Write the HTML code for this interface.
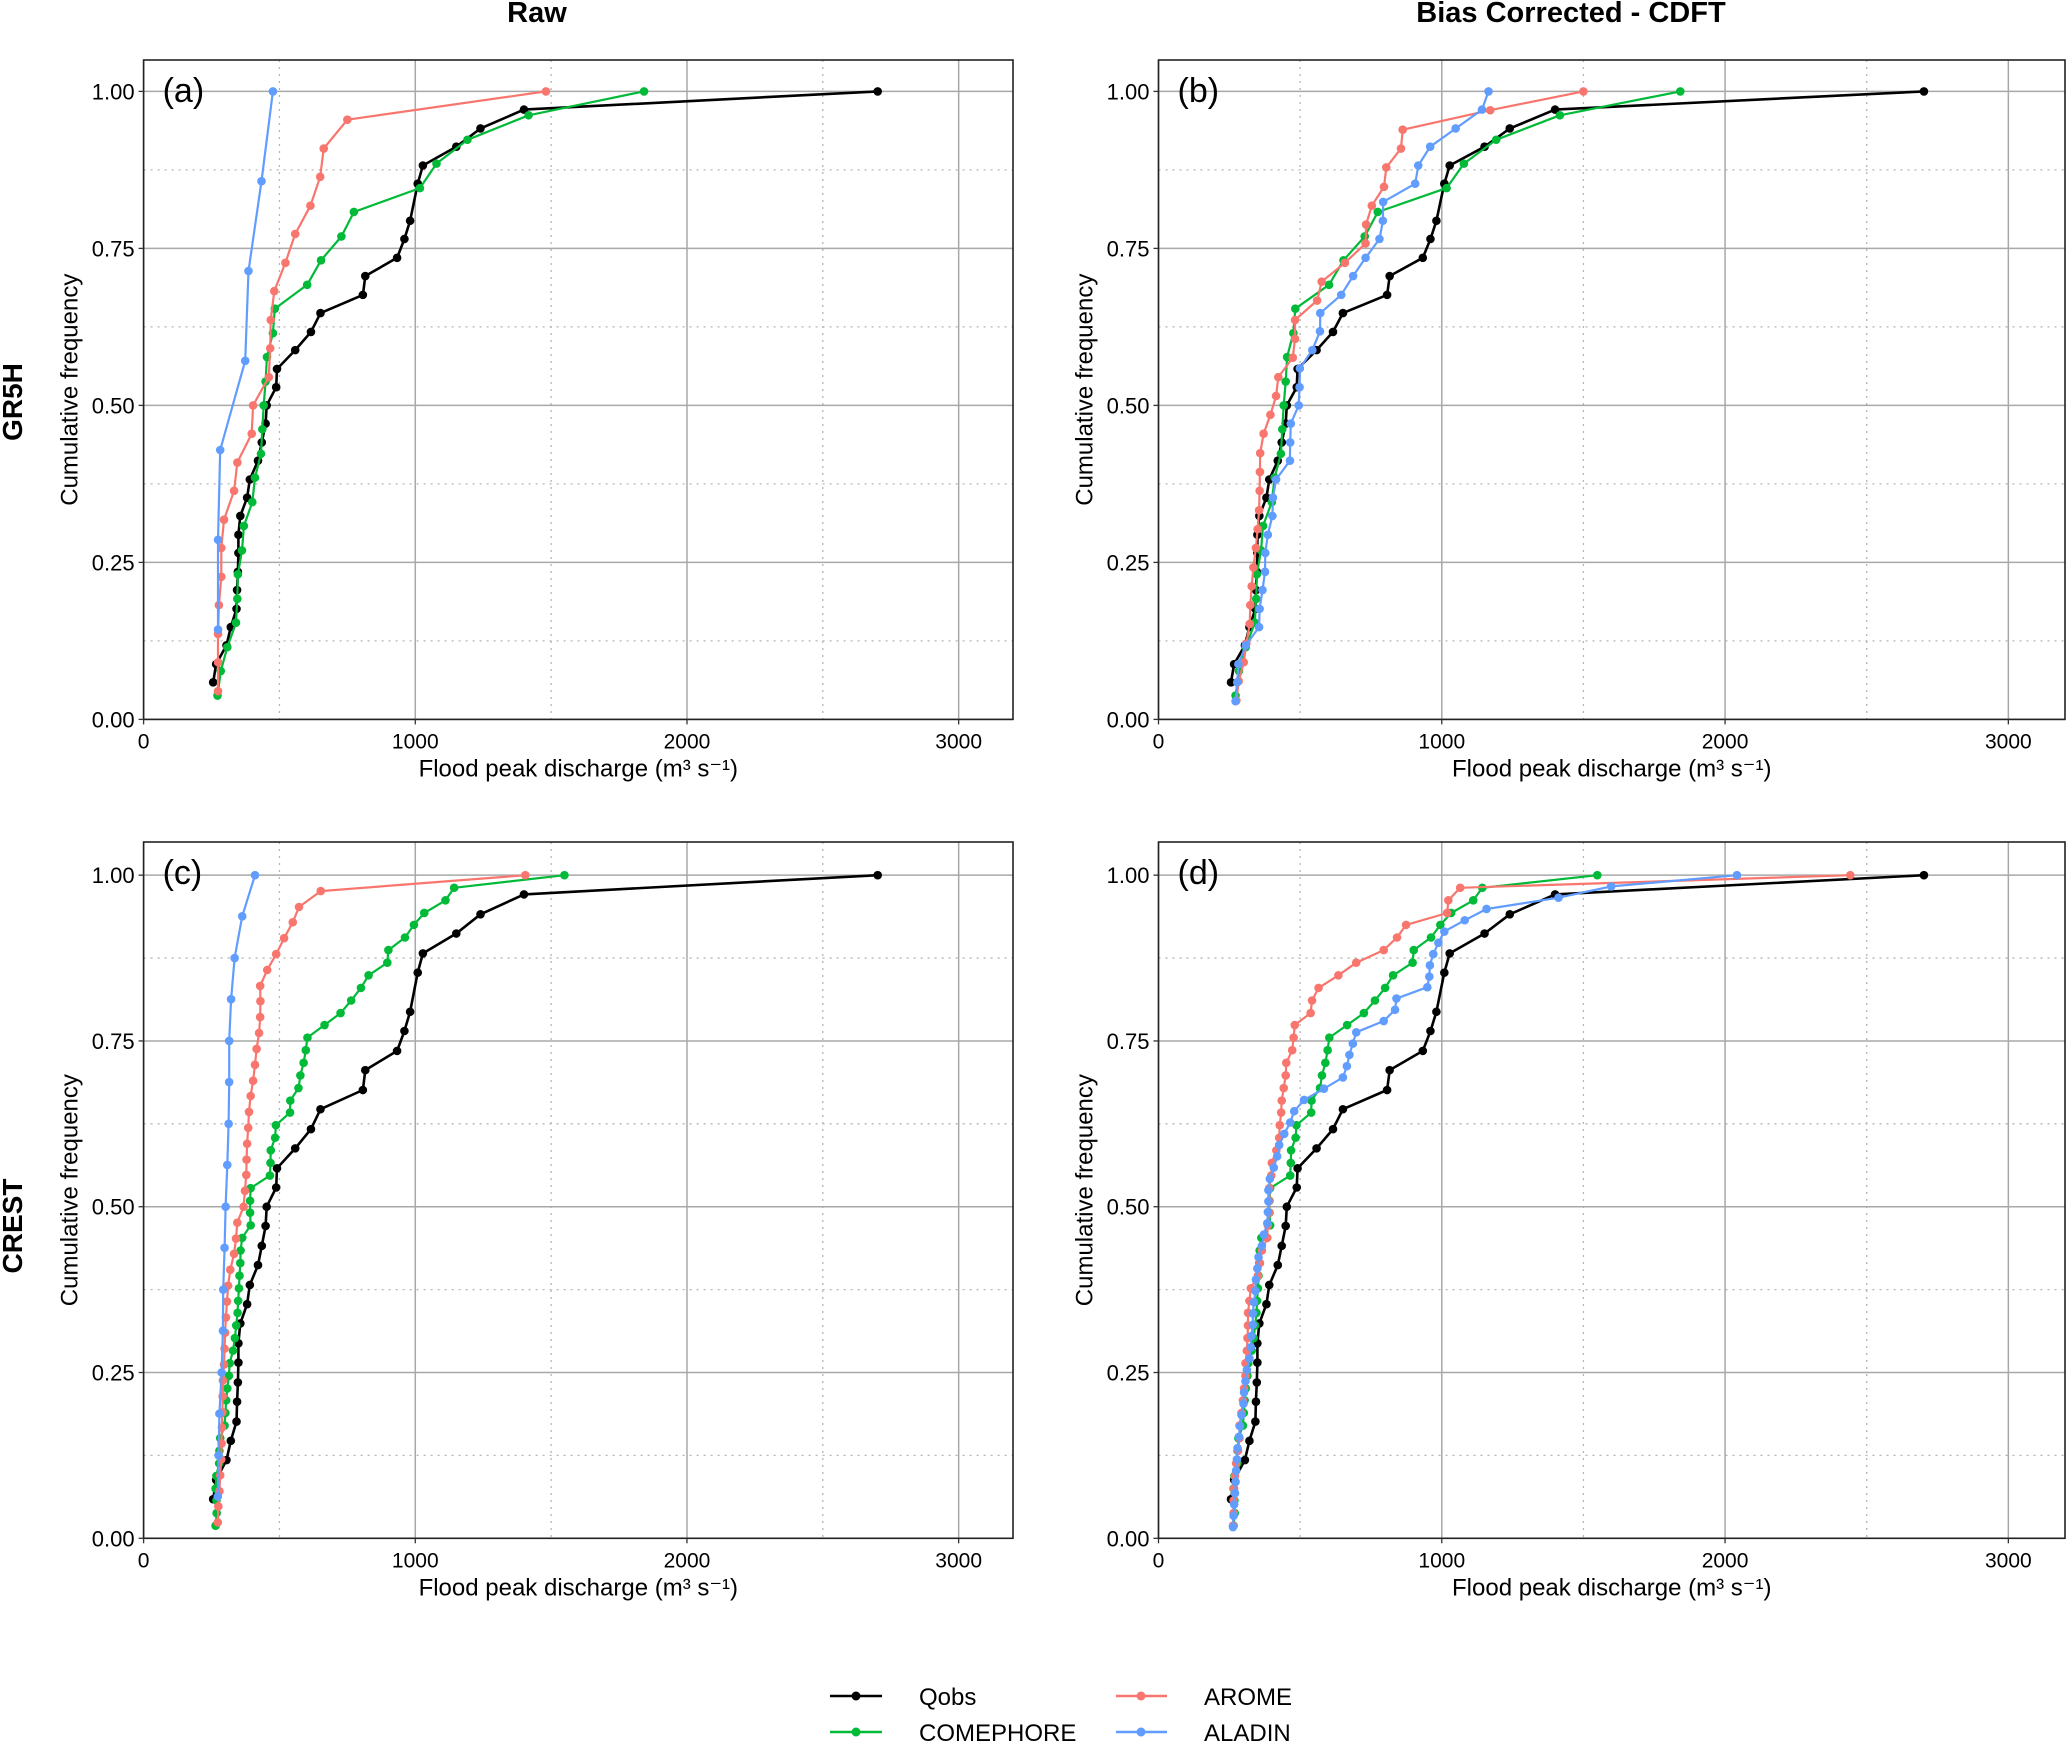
<!DOCTYPE html>
<html><head><meta charset="utf-8"><style>
html,body{margin:0;padding:0;background:#fff}
svg{display:block}
text{font-family:"Liberation Sans",sans-serif;fill:#000}
</style></head><body>
<svg id="fig" width="2067" height="1741" viewBox="0 0 2067 1741" xmlns="http://www.w3.org/2000/svg">
<text x="537" y="22" font-size="29" font-weight="bold" text-anchor="middle">Raw</text>
<text x="1571" y="22" font-size="29" font-weight="bold" text-anchor="middle">Bias Corrected - CDFT</text>
<text transform="translate(22,402) rotate(-90)" font-size="28" font-weight="bold" text-anchor="middle">GR5H</text>
<text transform="translate(22,1226) rotate(-90)" font-size="28" font-weight="bold" text-anchor="middle">CREST</text>
<g id="panels"></g>
<g>
 <g><line x1="830" y1="1696" x2="882" y2="1696" stroke="#000" stroke-width="2.5"/><circle cx="856" cy="1696" r="4.5" fill="#000"/><text x="919" y="1705" font-size="24">Qobs</text></g>
 <g><line x1="830" y1="1732" x2="882" y2="1732" stroke="#00BA38" stroke-width="2.5"/><circle cx="856" cy="1732" r="4.5" fill="#00BA38"/><text x="919" y="1741" font-size="24">COMEPHORE</text></g>
 <g><line x1="1116" y1="1696" x2="1167" y2="1696" stroke="#F8766D" stroke-width="2.5"/><circle cx="1141" cy="1696" r="4.5" fill="#F8766D"/><text x="1204" y="1705" font-size="24">AROME</text></g>
 <g><line x1="1116" y1="1732" x2="1167" y2="1732" stroke="#619CFF" stroke-width="2.5"/><circle cx="1141" cy="1732" r="4.5" fill="#619CFF"/><text x="1204" y="1741" font-size="24">ALADIN</text></g>
</g>
</svg>
<script>
const xTicks = [0, 1000, 2000, 3000];
const xMinor = [500, 1500, 2500];
const yTicks = [0, 0.25, 0.5, 0.75, 1];
const yTickLabels = ["0.00", "0.25", "0.50", "0.75", "1.00"];
const yMinor = [0.125, 0.375, 0.625, 0.875];
const panelLabels = ["(a)", "(b)", "(c)", "(d)"];

const qobsX = [2702,1400,1240,1151,1028,1009,981,960,933,816,807,651,616,558,491,488,453,449,435,421,391,381,356,349,349,347,344,342,321,305,267,256];
const qobsY = [1,0.971,0.941,0.912,0.882,0.853,0.794,0.765,0.735,0.706,0.676,0.647,0.617,0.588,0.558,0.529,0.5,0.471,0.441,0.412,0.382,0.353,0.324,0.294,0.265,0.235,0.206,0.176,0.147,0.118,0.088,0.059];

const gr5hComephoreX = [1842,1417,1192,1078,1017,774,728,653,602,483,476,454,449,442,437,432,410,400,369,362,347,345,340,308,284,272];
const gr5hComephoreY = [1,.962,.923,.885,.846,.808,.769,.731,.692,.654,.615,.577,.538,.5,.462,.423,.385,.346,.308,.269,.231,.192,.154,.115,.077,.038];

const aAromeX = [1481,750,663,650,614,558,522,481,468,466,461,403,398,345,333,296,286,286,277,274,274,274];
const aAromeY = [1,.955,.909,.864,.818,.773,.727,.682,.636,.591,.545,.5,.455,.409,.364,.318,.273,.227,.182,.136,.091,.045];
const aAladinX = [476,434,386,374,282,274,274];
const aAladinY = [1,.857,.714,.571,.429,.286,.143];

const bAromeX = [1500,1171,862,856,804,796,753,733,731,658,576,560,482,482,474,423,415,395,371,359,358,357,355,350,344,335,329,324,322,310,301,283,275];
const bAromeY = [1,.970,.939,.909,.879,.848,.818,.788,.758,.727,.697,.667,.636,.606,.576,.545,.515,.485,.455,.424,.394,.364,.333,.303,.273,.242,.212,.182,.152,.121,.091,.061,.030];
const bAladinX = [1165,1142,1049,959,917,906,793,792,780,731,687,645,571,570,543,499,498,495,467,465,464,415,404,402,386,377,376,367,357,355,308,282,278,272];
const bAladinY = [1,.971,.941,.912,.882,.853,.824,.794,.765,.735,.706,.676,.647,.618,.588,.559,.529,.5,.471,.441,.412,.382,.353,.324,.294,.265,.235,.206,.176,.147,.118,.088,.059,.029];

const crestComephoreX = [1549,1143,1111,1033,995,962,901,897,828,800,764,725,666,603,597,589,577,570,540,539,487,484,468,467,465,394,392,392,394,363,357,356,353,351,348,346,341,336,329,317,314,308,304,301,298,282,279,278,268,265,268,269,265];
const crestComephoreY = [1,.981,.962,.943,.925,.906,.887,.868,.849,.830,.811,.792,.774,.755,.736,.717,.698,.679,.660,.642,.623,.604,.585,.566,.547,.528,.509,.491,.472,.453,.434,.415,.396,.377,.358,.340,.321,.302,.283,.264,.245,.226,.208,.189,.170,.151,.132,.113,.094,.075,.057,.038,.019];

const cAromeX = [1405,652,572,549,517,488,455,429,430,429,425,416,410,403,394,388,385,381,379,378,373,368,345,340,333,319,311,307,303,300,298,296,292,291,290,288,287,286,282,279,275,273];
const cAromeY = [1,.976,.952,.929,.905,.881,.857,.833,.810,.786,.762,.738,.714,.690,.667,.643,.619,.595,.571,.548,.524,.500,.476,.452,.429,.405,.381,.357,.333,.310,.286,.262,.238,.214,.190,.167,.143,.119,.095,.071,.048,.024];
const cAladinX = [410,363,335,322,315,315,313,308,302,298,293,292,287,279,276,273];
const cAladinY = [1,.938,.875,.813,.75,.688,.625,.563,.5,.438,.375,.313,.25,.188,.125,.063];

const dAromeX = [2442,1065,1023,1019,874,842,795,698,635,565,542,537,481,477,472,451,449,442,435,433,428,426,416,400,398,391,391,391,386,384,365,358,351,326,321,316,316,314,312,307,307,302,298,293,286,286,281,274,270,267,265,265,263];
const dAromeY = [1,.981,.962,.943,.925,.906,.887,.868,.849,.830,.811,.792,.774,.755,.736,.717,.698,.679,.660,.642,.623,.604,.585,.566,.547,.528,.509,.491,.472,.453,.434,.415,.396,.377,.358,.340,.321,.302,.283,.264,.245,.226,.208,.189,.170,.151,.132,.113,.094,.075,.057,.038,.019];
const dAladinX = [2042,1598,1412,1158,1081,1009,988,970,958,956,949,840,835,795,698,686,674,665,651,584,514,479,465,444,426,419,407,393,388,388,386,384,372,365,353,349,344,342,337,333,333,328,326,321,312,307,302,300,293,288,284,279,277,274,272,270,267,265,263];
const dAladinY = [1,.983,.966,.949,.932,.915,.898,.881,.864,.847,.831,.814,.797,.780,.763,.746,.729,.712,.695,.678,.661,.644,.627,.610,.593,.576,.559,.542,.525,.508,.492,.475,.458,.441,.424,.407,.390,.373,.356,.339,.322,.305,.288,.271,.254,.237,.220,.203,.186,.169,.153,.136,.119,.102,.085,.068,.051,.034,.017];

const NS = "http://www.w3.org/2000/svg";
const colors = {qobs:"#000000", comephore:"#00BA38", arome:"#F8766D", aladin:"#619CFF"};
const geom = [
  {l:143.6, r:1013, t:60, b:719.4},
  {l:1158.5, r:2065, t:60, b:719.4},
  {l:143.6, r:1013, t:842, b:1538.3},
  {l:1158.5, r:2065, t:842, b:1538.3}
];
const panelSeries = [
  [["qobs",qobsX,qobsY],["comephore",gr5hComephoreX,gr5hComephoreY],["arome",aAromeX,aAromeY],["aladin",aAladinX,aAladinY]],
  [["qobs",qobsX,qobsY],["comephore",gr5hComephoreX,gr5hComephoreY],["arome",bAromeX,bAromeY],["aladin",bAladinX,bAladinY]],
  [["qobs",qobsX,qobsY],["comephore",crestComephoreX,crestComephoreY],["arome",cAromeX,cAromeY],["aladin",cAladinX,cAladinY]],
  [["qobs",qobsX,qobsY],["comephore",crestComephoreX,crestComephoreY],["arome",dAromeX,dAromeY],["aladin",dAladinX,dAladinY]]
];
const X_MAX = 3200, Y_MAX = 1.05;
function mk(tag, attrs, parent){
  const e = document.createElementNS(NS, tag);
  for (const k in attrs) e.setAttribute(k, attrs[k]);
  parent.appendChild(e);
  return e;
}
const root = document.getElementById("panels");
geom.forEach((g, pi) => {
  const sx = v => g.l + (v / X_MAX) * (g.r - g.l);
  const sy = v => g.b - (v / Y_MAX) * (g.b - g.t);
  const p = mk("g", {}, root);
  
  
  const grid = mk("g", {}, p);
  
  
  xMinor.forEach(v => mk("line", {x1:sx(v), x2:sx(v), y1:g.t, y2:g.b, stroke:"#b5b5b5", "stroke-width":1.3, "stroke-dasharray":"2,5"}, grid));
  yMinor.forEach(v => mk("line", {x1:g.l, x2:g.r, y1:sy(v), y2:sy(v), stroke:"#b5b5b5", "stroke-width":1.3, "stroke-dasharray":"2,5"}, grid));
  xTicks.forEach(v => mk("line", {x1:sx(v), x2:sx(v), y1:g.t, y2:g.b, stroke:"#a8a8a8", "stroke-width":1.5}, grid));
  yTicks.forEach(v => mk("line", {x1:g.l, x2:g.r, y1:sy(v), y2:sy(v), stroke:"#a8a8a8", "stroke-width":1.5}, grid));
  panelSeries[pi].forEach(([name, xs, ys]) => {
    const s = mk("g", {}, p);
    
    
    const pts = xs.map((x, i) => sx(x).toFixed(1) + "," + sy(ys[i]).toFixed(1)).join(" ");
    mk("polyline", {points:pts, fill:"none", stroke:colors[name], "stroke-width": name === "qobs" ? 2.6 : 2.2, "stroke-linejoin":"round"}, s);
    xs.forEach((x, i) => {
      const c = mk("circle", {cx:sx(x), cy:sy(ys[i]), r:4.3, fill:colors[name]}, s);
      
      
    });
  });
  const frame = mk("rect", {x:g.l, y:g.t, width:g.r - g.l, height:g.b - g.t, fill:"none", stroke:"#222", "stroke-width":1.6}, p);
  
  
  xTicks.forEach(v => {
    mk("line", {x1:sx(v), x2:sx(v), y1:g.b, y2:g.b + 5, stroke:"#333", "stroke-width":1.3}, p);
    const t = mk("text", {x:sx(v), y:g.b + 29, "font-size":21, "text-anchor":"middle"}, p);
    
    
    t.textContent = String(v);
  });
  yTicks.forEach((v, i) => {
    mk("line", {x1:g.l - 5, x2:g.l, y1:sy(v), y2:sy(v), stroke:"#333", "stroke-width":1.3}, p);
    const t = mk("text", {x:g.l - 9, y:sy(v) + 8, "font-size":22, "text-anchor":"end"}, p);
    
    
    t.textContent = yTickLabels[i];
  });
  const xt = mk("text", {x:(g.l + g.r) / 2, y:g.b + 57, "font-size":24, "text-anchor":"middle"}, p);
  
  
  xt.textContent = "Flood peak discharge (m³ s⁻¹)";
  const yt = mk("text", {transform:"translate(" + (g.l - 66) + "," + ((g.t + g.b) / 2) + ") rotate(-90)", "font-size":24, "text-anchor":"middle"}, p);
  
  
  yt.textContent = "Cumulative frequency";
  const pl = mk("text", {x:g.l + 19, y:g.t + 42, "font-size":34}, p);
  
  
  pl.textContent = panelLabels[pi];
});
</script>
</body></html>
